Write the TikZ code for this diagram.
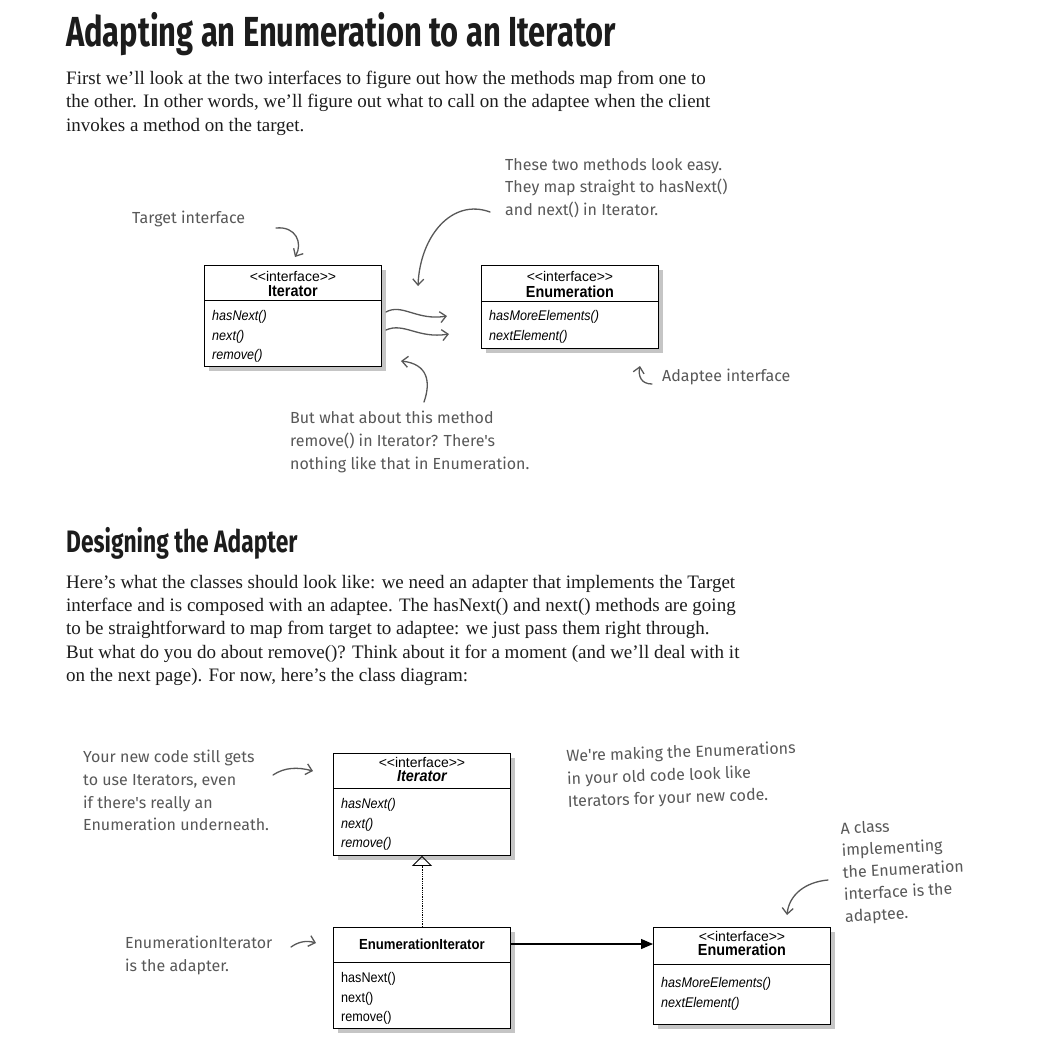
\documentclass[tikz,border=0pt]{standalone}
\usepackage{fontspec}
\setmainfont{Liberation Serif}
\newfontfamily\headfont{Fira Sans}[FakeStretch=0.735]
\newfontfamily\handfont{Fira Sans}
\newfontfamily\umlfont{Liberation Sans}[FakeStretch=0.9]
\newfontfamily\stereofont{Liberation Sans}
\usetikzlibrary{positioning,shadows,arrows.meta}
\definecolor{notegray}{RGB}{88,88,88}
\definecolor{inkblack}{RGB}{28,28,28}
\tikzset{
  umlbox/.style={draw, line width=0.9pt, fill=white, anchor=north west, minimum width=177pt, inner sep=0,
    drop shadow={shadow xshift=5pt, shadow yshift=-5pt, opacity=0.45}},
  stereo/.style={font=\stereofont\fontsize{14}{14}\selectfont, inner sep=0},
  cname/.style={font=\umlfont\bfseries\fontsize{16}{16}\selectfont, inner sep=0},
  meth/.style={font=\umlfont\itshape\fontsize{14}{19.8}\selectfont, anchor=north west, align=left, inner sep=0},
  note/.style={font=\handfont\fontsize{16}{22.7}\selectfont, text=notegray, anchor=north west, align=left, inner sep=0},
  hand/.style={draw=notegray, line width=1.3pt, line cap=round, -{Straight Barb[length=6pt, width=11pt]}},
  bodytext/.style={font=\fontsize{19}{23.3}\selectfont, text=inkblack, anchor=north west, align=left, inner sep=0},
}
\begin{document}
\begin{tikzpicture}[x=1pt, y=-1pt]
  \fill[white] (0,0) rectangle (1041,1060);
  \useasboundingbox (0,0) rectangle (1041,1060);

  % headings and running text
  \node[font=\headfont\bfseries\fontsize{42}{42}\selectfont, text=inkblack, anchor=base west, inner sep=0] (title) at (66,46)
    {Adapting an Enumeration to an Iterator};
  \node[bodytext] (intro) at (66,71) {First we'll look at the two interfaces to figure out how the methods map from one to\\
    the other. In other words, we'll figure out what to call on the adaptee when the client\\
    invokes a method on the target.};
  \node[font=\headfont\bfseries\fontsize{31}{31}\selectfont, text=inkblack, anchor=base west, inner sep=0] (design) at (66,552)
    {Designing the Adapter};
  \node[bodytext] (plan) at (66,575) {Here's what the classes should look like: we need an adapter that implements the Target\\
    interface and is composed with an adaptee. The hasNext() and next() methods are going\\
    to be straightforward to map from target to adaptee: we just pass them right through.\\
    But what do you do about remove()? Think about it for a moment (and we'll deal with it\\
    on the next page). For now, here's the class diagram:};

  % --- first picture: the two interfaces ---
  \node[umlbox, minimum height=101pt] (itTop) at (204,265) {};
  \draw[line width=0.9pt] ([yshift=-35pt]itTop.north west) -- ([yshift=-35pt]itTop.north east);
  \node[stereo] (itTopSt) at ([yshift=-11pt]itTop.north) {<{}<interface>{}>};
  \node[cname] (itTopName) at ([yshift=-26pt]itTop.north) {Iterator};
  \node[meth] (itTopOps) at ([xshift=8pt, yshift=-45pt]itTop.north west) {hasNext()\\ next()\\ remove()};

  \node[umlbox, minimum height=83pt] (enTop) at (481,265) {};
  \draw[line width=0.9pt] ([yshift=-36pt]enTop.north west) -- ([yshift=-36pt]enTop.north east);
  \node[stereo] (enTopSt) at ([yshift=-11pt]enTop.north) {<{}<interface>{}>};
  \node[cname] (enTopName) at ([yshift=-27pt]enTop.north) {Enumeration};
  \node[meth] (enTopOps) at ([xshift=8pt, yshift=-45pt]enTop.north west) {hasMoreElements()\\ nextElement()};

  % notes round the first picture
  \node[note] (targetNote) at (132,211) {Target interface};
  \node[note] (easyNote) at (505,158) {These two methods look easy.\\ They map straight to hasNext()\\ and next() in Iterator.};
  \node[note] (removeNote) at (290,411) {But what about this method\\ remove() in Iterator? There's\\ nothing like that in Enumeration.};
  \node[note] (adapteeNote) at (662,369) {Adaptee interface};

  \coordinate (targetTip) at (295,257);
  \coordinate (easyTip) at (418,286);
  \coordinate (removeTip) at (401,361);
  \coordinate (adapteeTip) at (640,366);
  \coordinate (mapA) at (386,312);
  \coordinate (mapB) at (386,330);
  \draw[hand] (276,228) .. controls (296,226) and (303,243) .. (targetTip);
  \draw[hand] (490,212) .. controls (452,198) and (420,236) .. (easyTip);
  \draw[hand] (424,402) .. controls (431,382) and (428,364) .. (removeTip);
  \draw[hand] (652,384) .. controls (641,384) and (638,376) .. (adapteeTip);
  \draw[hand] (mapA) .. controls (402,303) and (417,321) .. (447,316);
  \draw[hand] (mapB) .. controls (404,322) and (418,339) .. (449,334);

  % --- second picture: the class diagram ---
  \node[umlbox, minimum height=102pt] (itBot) at (333,753) {};
  \draw[line width=0.9pt] ([yshift=-35pt]itBot.north west) -- ([yshift=-35pt]itBot.north east);
  \node[stereo] (itBotSt) at ([yshift=-9pt]itBot.north) {<{}<interface>{}>};
  \node[cname, font=\umlfont\bfseries\itshape\fontsize{16}{16}\selectfont] (itBotName) at ([yshift=-23pt]itBot.north) {Iterator};
  \node[meth] (itBotOps) at ([xshift=8pt, yshift=-45pt]itBot.north west) {hasNext()\\ next()\\ remove()};

  \node[umlbox, minimum height=101pt] (eiBox) at (333,927) {};
  \draw[line width=0.9pt] ([yshift=-35pt]eiBox.north west) -- ([yshift=-35pt]eiBox.north east);
  \node[cname, font=\umlfont\bfseries\fontsize{14.6}{14.6}\selectfont] (eiName) at ([yshift=-17pt]eiBox.north) {EnumerationIterator};
  \node[meth, font=\umlfont\fontsize{14}{19.8}\selectfont] (eiOps) at ([xshift=8pt, yshift=-45pt]eiBox.north west) {hasNext()\\ next()\\ remove()};

  \node[umlbox, minimum height=97pt] (enBot) at (653,927) {};
  \draw[line width=0.9pt] ([yshift=-37pt]enBot.north west) -- ([yshift=-37pt]enBot.north east);
  \node[stereo] (enBotSt) at ([yshift=-9pt]enBot.north) {<{}<interface>{}>};
  \node[cname] (enBotName) at ([yshift=-23pt]enBot.north) {Enumeration};
  \node[meth] (enBotOps) at ([xshift=8pt, yshift=-50pt]enBot.north west) {hasMoreElements()\\ nextElement()};

  \draw[densely dotted, line width=0.8pt, -{Triangle[open, length=10pt, width=20pt, line width=0.9pt]}] (eiBox.north) -- (itBot.south);
  \draw[line width=1.3pt, -{Triangle[length=12pt, width=10pt]}] ([yshift=-17pt]eiBox.north east) -- ([yshift=-17pt]enBot.north west);

  % notes round the class diagram
  \node[note] (newCodeNote) at (83,750) {Your new code still gets\\ to use Iterators, even\\ if there's really an\\ Enumeration underneath.};
  \node[note, rotate=2] (oldCodeNote) at (566,749) {We're making the Enumerations\\ in your old code look like\\ Iterators for your new code.};
  \node[note, rotate=3, font=\handfont\fontsize{16}{22}\selectfont] (classNote) at (840,822) {A class\\ implementing\\ the Enumeration\\ interface is the\\ adaptee.};
  \node[note] (adapterNote) at (125,936) {EnumerationIterator\\ is the adapter.};

  \coordinate (newCodeTip) at (313,771);
  \coordinate (classTip) at (787,915);
  \coordinate (adapterTip) at (316,943);
  \draw[hand] (273,775) .. controls (285,767) and (298,767) .. (newCodeTip);
  \draw[hand] (828,880) .. controls (805,882) and (789,895) .. (classTip);
  \draw[hand] (291,947) .. controls (298,942) and (306,940) .. (adapterTip);
\end{tikzpicture}
\end{document}
